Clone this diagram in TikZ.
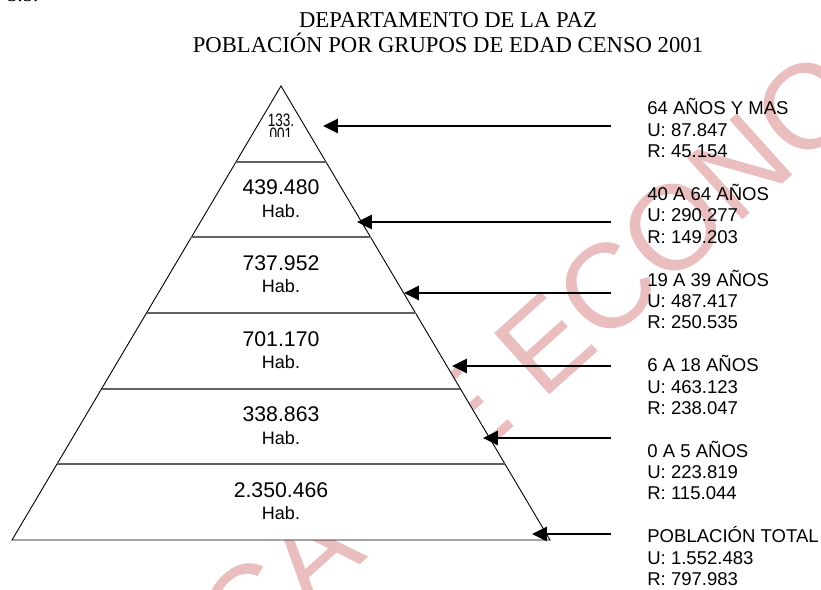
\documentclass[tikz,border=0pt]{standalone}
\usepackage{fontspec}
\setmainfont{Liberation Serif}
\newfontfamily\arialfont{Liberation Sans}
\usetikzlibrary{calc,arrows.meta}
\definecolor{wmpink}{RGB}{234,190,190}
\tikzset{
  edge/.style={line width=0.5pt, color=black},
  band/.style={line width=1.1pt, color=black!62},
  arr/.style={line width=1.1pt, -{Triangle[length=8.3pt,width=8pt]}},
  val/.style={font=\arialfont\fontsize{11.8}{13}\selectfont, inner sep=0pt},
  hab/.style={font=\arialfont\fontsize{10}{12}\selectfont, inner sep=0pt},
  lbl/.style={font=\arialfont\fontsize{10.3}{11.85}\selectfont, align=left, anchor=base west, inner sep=0pt},
  wmark/.style={font=\arialfont\fontsize{66.7}{70}\selectfont, text=wmpink, rotate=42, anchor=base west, inner sep=0pt},
}

\begin{document}
\begin{tikzpicture}[x=0.5556pt,y=-0.5556pt]
  \useasboundingbox (0,0) rectangle (821,590);

  %%%%% marca de agua y encabezado cortado %%%%%
  \begin{scope}
    \clip (0,0) rectangle (821,590);
    \node[wmark] (wm) at (245,669) {CA DE ECONOMIA};
    \node[font=\fontsize{11.5}{12}\selectfont, anchor=base west, inner sep=0pt] (sec) at (7,2) {3.5.};
  \end{scope}

  %%%%% titulo %%%%%
  \node[font=\fontsize{12.6}{13.9}\selectfont, align=center, anchor=base] (titulo) at (448,53)
    {DEPARTAMENTO DE LA PAZ\\POBLACIÓN POR GRUPOS DE EDAD CENSO 2001};

  %%%%% piramide %%%%%
  \coordinate (top) at (281,86);
  \coordinate (bl) at (12,540);
  \coordinate (br) at (550,540);
  \draw[edge, fill=white] (top) -- (bl) -- (br) -- cycle;
  \foreach \k in {1,...,5}
    \draw[band] ($(top)!\k/6!(bl)$) -- ($(top)!\k/6!(br)$);

  %%%%% valores %%%%%
  \begin{scope}
    \clip (250,100) rectangle (312,137);
    \node[font=\arialfont\fontsize{10}{7.8}\selectfont, align=center, anchor=base, inner sep=0pt] (v1) at (281,141)
      {\scalebox{0.75}[1]{133.}\\\scalebox{0.75}[1]{001}};
  \end{scope}
  \foreach \v [count=\k from 2] in {439.480,737.952,701.170,338.863,2.350.466} {
    \node[val] (v\k) at (281, {86+75.67*(\k-1)+26}) {\v};
    \node[hab] (h\k) at (281, {86+75.67*(\k-1)+49}) {Hab.};
  }

  %%%%% flechas %%%%%
  \foreach \y/\x [count=\i] in {126/323,222/357,293/404,366/452,438/483,534/532} {
    \coordinate (t\i) at (611,\y);
    \coordinate (p\i) at (\x,\y);
    \draw[arr] (t\i) -- (p\i);
  }

  %%%%% etiquetas %%%%%
  \foreach \txt [count=\i] in {{64 AÑOS Y MAS\\U: 87.847\\R: 45.154},
                               {40 A 64 AÑOS\\U: 290.277\\R: 149.203},
                               {19 A 39 AÑOS\\U: 487.417\\R: 250.535},
                               {6 A 18 AÑOS\\U: 463.123\\R: 238.047},
                               {0 A 5 AÑOS\\U: 223.819\\R: 115.044},
                               {POBLACIÓN TOTAL\\U: 1.552.483\\R: 797.983}}
    \node[lbl] (l\i) at (647, {157.6+85.6*(\i-1)}) {\txt};
\end{tikzpicture}
\end{document}
